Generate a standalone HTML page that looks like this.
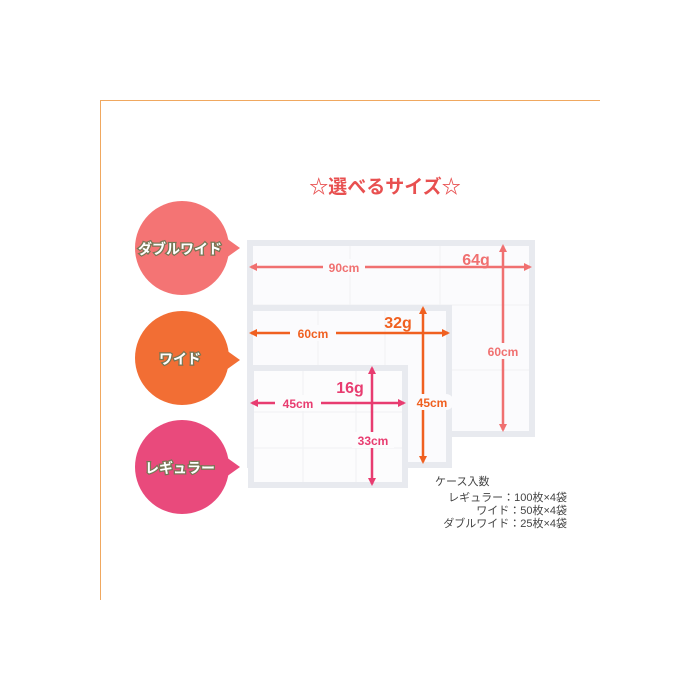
<!DOCTYPE html>
<html><head><meta charset="utf-8"><style>
body{margin:0;background:#fff;width:700px;height:700px;overflow:hidden}
svg{display:block}
text{font-family:"Liberation Sans","Noto Sans CJK JP",sans-serif;font-weight:bold}
</style></head><body>
<svg width="700" height="700" viewBox="0 0 700 700">
<defs>
<marker id="a1" markerWidth="8" markerHeight="8" refX="6" refY="4" orient="auto-start-reverse" markerUnits="userSpaceOnUse"><path d="M0,0 L8,4 L0,8 z" fill="#f07070"/></marker>
<marker id="a2" markerWidth="8" markerHeight="8" refX="6" refY="4" orient="auto-start-reverse" markerUnits="userSpaceOnUse"><path d="M0,0 L8,4 L0,8 z" fill="#f06020"/></marker>
<marker id="a3" markerWidth="8" markerHeight="8" refX="6" refY="4" orient="auto-start-reverse" markerUnits="userSpaceOnUse"><path d="M0,0 L8,4 L0,8 z" fill="#e83c70"/></marker>
</defs>
<line x1="100" y1="100.5" x2="600" y2="100.5" stroke="#f0a860" stroke-width="1"/>
<line x1="100.5" y1="100" x2="100.5" y2="600" stroke="#f0a860" stroke-width="1"/>
<text x="385" y="193" text-anchor="middle" font-size="19" fill="#e85050">☆選べるサイズ☆</text>

<circle cx="182" cy="248" r="47" fill="#f47474"/><path d="M226,238 L240,248 L226,258z" fill="#f47474"/>
<circle cx="182" cy="358" r="47" fill="#f26e34"/><path d="M226,350 L240,360 L226,370z" fill="#f26e34"/>
<circle cx="182" cy="467" r="47" fill="#e94a7c"/><path d="M226,457 L240,467 L226,477z" fill="#e94a7c"/>
<g font-size="14" fill="#fff" stroke="#775" stroke-width="2.5" paint-order="stroke" text-anchor="middle">
<text x="180" y="254">ダブルワイド</text>
<text x="180" y="364">ワイド</text>
<text x="180" y="473">レギュラー</text>
</g>

<rect x="247" y="240" width="288" height="197" fill="#e8eaef"/>
<rect x="253" y="246" width="276" height="185" fill="#fbfbfd"/>
<g stroke="#f0f1f4" stroke-width="1"><line x1="350" y1="246" x2="350" y2="431"/><line x1="440" y1="246" x2="440" y2="431"/><line x1="253" y1="305" x2="529" y2="305"/><line x1="253" y1="370" x2="529" y2="370"/></g>
<rect x="247" y="305" width="205" height="163" fill="#e8eaef"/>
<rect x="253" y="311" width="193" height="151" fill="#fbfbfd"/>
<g stroke="#f0f1f4"><line x1="318" y1="311" x2="318" y2="462"/><line x1="385" y1="311" x2="385" y2="462"/></g>
<rect x="248" y="365" width="160" height="123" fill="#e8eaef"/>
<rect x="254" y="371" width="148" height="111" fill="#fcfcfd"/>
<g stroke="#f0f1f4"><line x1="303" y1="371" x2="303" y2="482"/><line x1="356" y1="371" x2="356" y2="482"/><line x1="254" y1="412" x2="402" y2="412"/><line x1="254" y1="448" x2="402" y2="448"/></g>

<g stroke-width="2.5">
<line x1="251" y1="267" x2="530" y2="267" stroke="#f07070" marker-start="url(#a1)" marker-end="url(#a1)"/>
<line x1="503" y1="246" x2="503" y2="430" stroke="#f07070" marker-start="url(#a1)" marker-end="url(#a1)"/>
</g>
<rect x="323" y="259" width="42" height="16" fill="#fbfbfd"/>
<text x="344" y="272" text-anchor="middle" font-size="12" fill="#f07070">90cm</text>
<text x="476" y="265" text-anchor="middle" font-size="16" fill="#f07070">64g</text>
<rect x="482" y="343" width="42" height="16" rx="8" fill="#fbfbfd"/>
<text x="503" y="356" text-anchor="middle" font-size="12" fill="#f07070">60cm</text>

<g stroke-width="2.5">
<line x1="251" y1="333" x2="448" y2="333" stroke="#f06020" marker-start="url(#a2)" marker-end="url(#a2)"/>
<line x1="423" y1="308" x2="423" y2="462" stroke="#f06020" marker-start="url(#a2)" marker-end="url(#a2)"/>
</g>
<rect x="290" y="325" width="46" height="16" fill="#fbfbfd"/>
<text x="313" y="338" text-anchor="middle" font-size="12" fill="#f06020">60cm</text>
<text x="398" y="328" text-anchor="middle" font-size="16" fill="#f06020">32g</text>
<rect x="410" y="394" width="44" height="16" rx="8" fill="#fbfbfd"/>
<text x="432" y="407" text-anchor="middle" font-size="12" fill="#f06020">45cm</text>

<g stroke-width="2.5">
<line x1="252" y1="403" x2="404" y2="403" stroke="#e83c70" marker-start="url(#a3)" marker-end="url(#a3)"/>
<line x1="372" y1="368" x2="372" y2="484" stroke="#e83c70" marker-start="url(#a3)" marker-end="url(#a3)"/>
</g>
<rect x="275" y="395" width="46" height="16" fill="#fcfcfd"/>
<text x="298" y="408" text-anchor="middle" font-size="12" fill="#e83c70">45cm</text>
<text x="350" y="393" text-anchor="middle" font-size="16" fill="#e83c70">16g</text>
<rect x="352" y="432" width="42" height="16" fill="#fcfcfd"/>
<text x="373" y="445" text-anchor="middle" font-size="12" fill="#e83c70">33cm</text>

<g font-size="11" fill="#444">
<text x="435" y="485" style="font-weight:normal">ケース入数</text>
<text x="567" y="501" text-anchor="end" style="font-weight:normal">レギュラー：100枚×4袋</text>
<text x="567" y="514" text-anchor="end" style="font-weight:normal">ワイド：50枚×4袋</text>
<text x="567" y="527" text-anchor="end" style="font-weight:normal">ダブルワイド：25枚×4袋</text>
</g>
</svg>
</body></html>
